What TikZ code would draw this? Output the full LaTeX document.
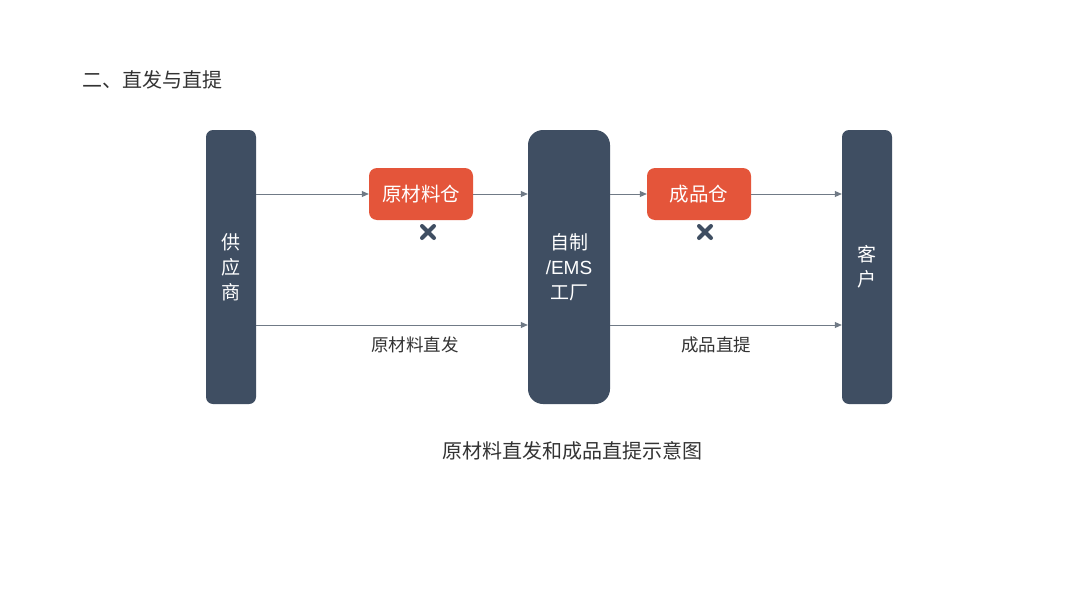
\documentclass[tikz,border=0pt]{standalone}
\usepackage{fontspec}
\setmainfont{Liberation Sans}
\newfontfamily\cjk{Noto Sans CJK SC}
\usetikzlibrary{arrows.meta}
\definecolor{slate}{HTML}{3F4E62}
\definecolor{brick}{HTML}{E4553A}
\definecolor{txtgray}{HTML}{333333}
\definecolor{linegray}{HTML}{707A86}
\tikzset{
  pillar/.style={fill=slate, draw=none, text=white, align=center, font=\cjk\fontsize{19}{25}\selectfont},
  store/.style={fill=brick, draw=none, text=white, minimum width=104pt, minimum height=52pt, rounded corners=8pt, font=\cjk\fontsize{19.5}{22}\selectfont, inner sep=0pt},
  flow/.style={draw=linegray, line width=0.8pt, -{Triangle[length=7pt,width=6pt]}},
  lbl/.style={text=txtgray, font=\cjk\fontsize{17.5}{20}\selectfont, inner sep=0pt},
  cross/.style={draw=slate, line width=4pt, line cap=round}
}
\begin{document}
\begin{tikzpicture}[x=1pt,y=-1pt]
\useasboundingbox (0,0) rectangle (1080,608);
\fill[white] (0,0) rectangle (1080,608);
\node[lbl, anchor=west, font=\cjk\fontsize{20}{24}\selectfont] (title) at (82,80) {二、直发与直提};
% pillars
\node[pillar, minimum width=50pt, minimum height=274pt, rounded corners=7pt, inner sep=0pt] (sup) at (231,267) {供\\应\\商};
\node[pillar, minimum width=82pt, minimum height=274pt, rounded corners=15pt, inner sep=0pt] (fac) at (569,267) {自制\\{\rmfamily\fontsize{19}{25}\selectfont /EMS}\\工厂};
\node[pillar, minimum width=50pt, minimum height=274pt, rounded corners=7pt, inner sep=0pt] (cus) at (867,267) {客\\户};
% warehouses
\node[store] (raw) at (421,194) {原材料仓};
\node[store] (fin) at (699,194) {成品仓};
% top flows
\draw[flow] (sup.east |- raw.west) -- (raw.west);
\draw[flow] (raw.east) -- (fac.west |- raw.east);
\draw[flow] (fac.east |- fin.west) -- (fin.west);
\draw[flow] (fin.east) -- (cus.west |- fin.east);
% crosses
\coordinate (x1) at (428,232);
\coordinate (x2) at (705,232);
\draw[cross] ([shift={(-6,-6)}]x1) -- ([shift={(6,6)}]x1);
\draw[cross] ([shift={(-6,6)}]x1) -- ([shift={(6,-6)}]x1);
\draw[cross] ([shift={(-6,-6)}]x2) -- ([shift={(6,6)}]x2);
\draw[cross] ([shift={(-6,6)}]x2) -- ([shift={(6,-6)}]x2);
% bottom flows
\coordinate (b1) at (256,325);
\coordinate (b2) at (610,325);
\draw[flow] (b1) -- (fac.west |- b1);
\draw[flow] (b2) -- (cus.west |- b2);
\node[lbl] (l1) at (415,345) {原材料直发};
\node[lbl] (l2) at (716,345) {成品直提};
% caption
\node[lbl, font=\cjk\fontsize{20}{24}\selectfont] (cap) at (572,451) {原材料直发和成品直提示意图};
\end{tikzpicture}
\end{document}
